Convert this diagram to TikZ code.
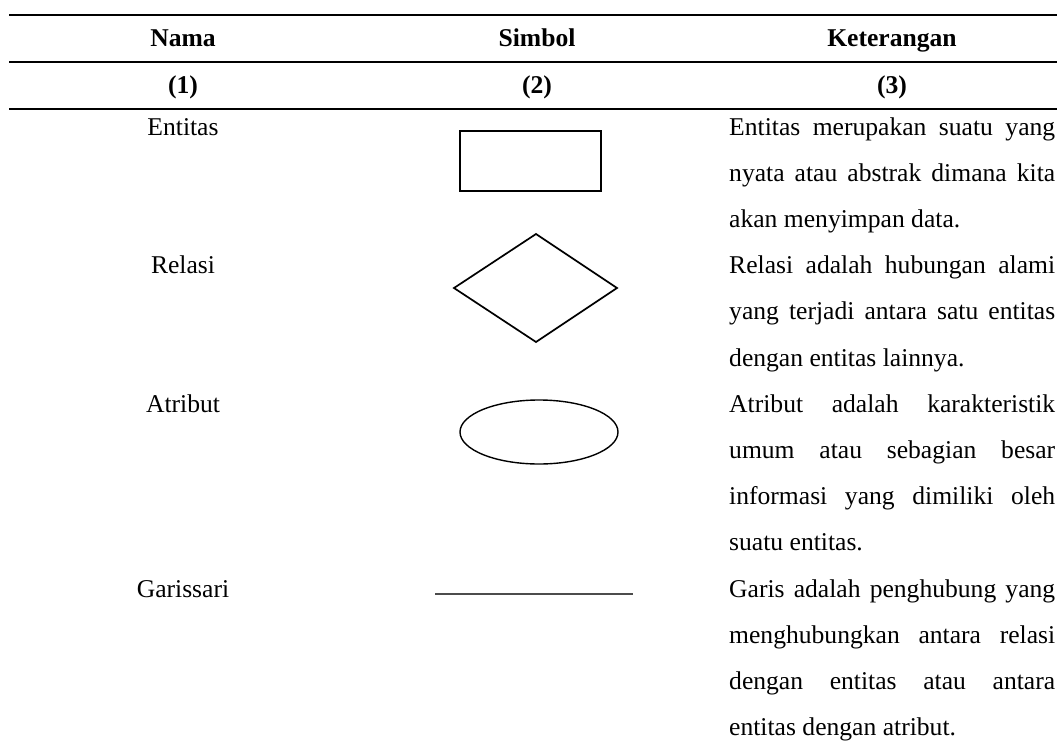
\documentclass[tikz,border=0pt]{standalone}
\usepackage{fontspec}
\setmainfont{Liberation Serif}
\newlength\colw
\setlength\colw{326pt}
% one justified line of the description column
\newcommand\jline[1]{\makebox[\colw][s]{#1}}
\begin{document}
\begin{tikzpicture}[x=1pt,y=-1pt,
  rule/.style={line width=2pt},
  txt/.style={inner sep=0pt, anchor=base, font=\fontsize{25.6}{30}\selectfont},
  hdr/.style={txt, font=\fontsize{25.6}{30}\selectfont\bfseries},
  desc/.style={txt, anchor=base west},
  sym/.style={draw=black, line width=1.7pt},
]
\useasboundingbox (0,0) rectangle (1057,747);

% table rules
\draw[rule] (9,15) -- (1057,15);
\draw[rule] (9,62) -- (1057,62);
\draw[rule] (9,108.5) -- (1057,108.5);

% header
\node[hdr] (hNama) at (183,46) {Nama};
\node[hdr] (hSimbol) at (537,46) {Simbol};
\node[hdr] (hKet) at (892,46) {Keterangan};
\node[hdr] (n1) at (183,93) {(1)};
\node[hdr] (n2) at (537,93) {(2)};
\node[hdr] (n3) at (892,93) {(3)};

% names
\node[txt] (entitas) at (183,135) {Entitas};
\node[txt] (relasi) at (183,273.6) {Relasi};
\node[txt] (atribut) at (183,412.2) {Atribut};
\node[txt] (garis) at (183,597) {Garissari};

% symbols
\draw[sym] (460,131) rectangle (601,191);
\draw[sym, line join=miter] (536,234) -- (617,288) -- (536,342) -- (454,288) -- cycle;
\draw[draw=black, line width=1.4pt] (539,432) ellipse [x radius=79, y radius=32];
\draw[draw=black!70, line width=1.2pt] (435,594) -- (633,594);

% descriptions
\node[desc] (d1a) at (729,135) {\jline{Entitas merupakan suatu yang}};
\node[desc] (d1b) at (729,181.2) {\jline{nyata atau abstrak dimana kita}};
\node[desc] (d1c) at (729,227.4) {akan menyimpan data.};
\node[desc] (d2a) at (729,273.6) {\jline{Relasi adalah hubungan alami}};
\node[desc] (d2b) at (729,319.8) {\jline{yang terjadi antara satu entitas}};
\node[desc] (d2c) at (729,366) {dengan entitas lainnya.};
\node[desc] (d3a) at (729,412.2) {\jline{Atribut adalah karakteristik}};
\node[desc] (d3b) at (729,458.4) {\jline{umum atau sebagian besar}};
\node[desc] (d3c) at (729,504.6) {\jline{informasi yang dimiliki oleh}};
\node[desc] (d3d) at (729,550.8) {suatu entitas.};
\node[desc] (d4a) at (729,597) {\jline{Garis adalah penghubung yang}};
\node[desc] (d4b) at (729,643.2) {\jline{menghubungkan antara relasi}};
\node[desc] (d4c) at (729,689.4) {\jline{dengan entitas atau antara}};
\node[desc] (d4d) at (729,735.6) {entitas dengan atribut.};
\end{tikzpicture}
\end{document}
